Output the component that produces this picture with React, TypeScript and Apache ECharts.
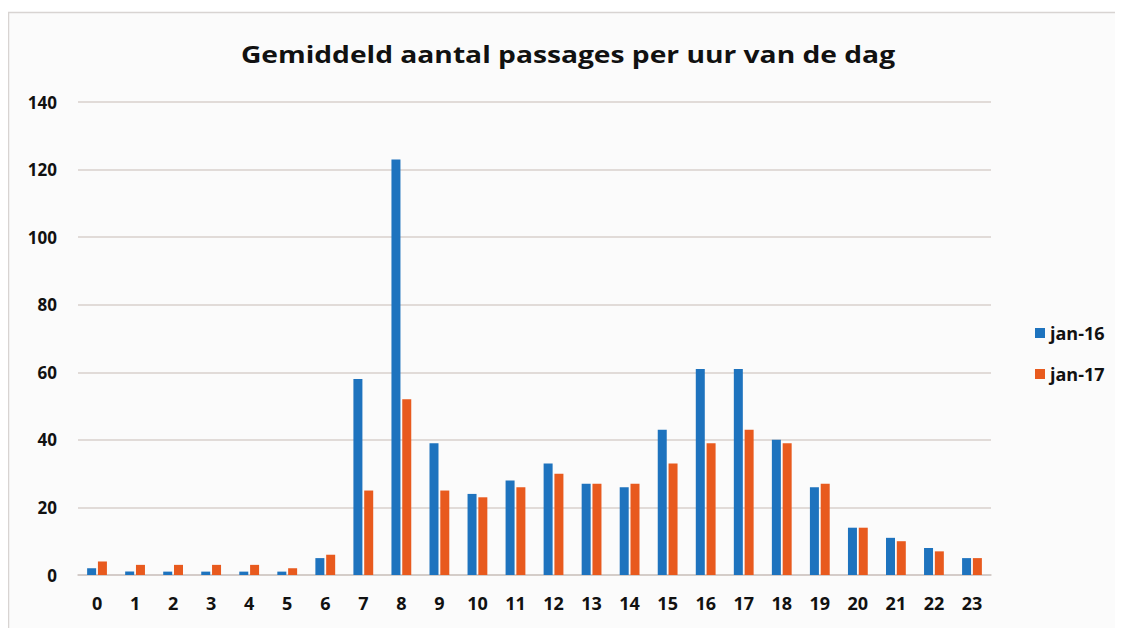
import React, { useEffect, useRef } from "react";
import * as echarts from "echarts";

const hours = ["0","1","2","3","4","5","6","7","8","9","10","11","12","13","14","15","16","17","18","19","20","21","22","23"];
const jan16 = [2, 1, 1, 1, 1, 1, 5, 58, 123, 39, 24, 28, 33, 27, 26, 43, 61, 61, 40, 26, 14, 11, 8, 5];
const jan17 = [4, 3, 3, 3, 3, 2, 6, 25, 52, 25, 23, 26, 30, 27, 27, 33, 39, 43, 39, 27, 14, 10, 7, 5];
const yTicks = [0, 20, 40, 60, 80, 100, 120, 140];
const titleText = "Gemiddeld aantal passages per uur van de dag";

export default function App() {
  const ref = useRef<HTMLDivElement>(null);
  useEffect(() => {
    const chart = echarts.init(ref.current!, null, { renderer: "svg" });
    const font = "'Open Sans', 'Noto Sans', sans-serif";
    chart.setOption({
      animation: false,
      backgroundColor: "#ffffff",
      graphic: [
        {
          type: "rect",
          shape: { x: 8.5, y: 12.5, width: 1108, height: 620 },
          style: { fill: "#fbfbfb", stroke: "#d8d4d2", lineWidth: 1.5 },
          z: -10,
          silent: true,
        },
        {
          type: "text",
          x: 568,
          y: 54,
          scaleX: 1.2,
          style: {
            text: titleText,
            fontFamily: font,
            fontWeight: "bold",
            fontSize: 23.5,
            fill: "#111",
            textAlign: "center",
            textVerticalAlign: "middle",
          },
          silent: true,
        },
      ],
      legend: {
        orient: "vertical",
        left: 1030,
        top: 319,
        itemWidth: 10,
        itemHeight: 10,
        itemGap: 23,
        icon: "rect",
        textStyle: { fontFamily: font, fontWeight: "bold", fontSize: 18, color: "#111", padding: [0, 0, 0, 0] },
        data: ["jan-16", "jan-17"],
      },
      grid: { left: 78, right: 132, top: 102, bottom: 53, containLabel: false },
      xAxis: {
        type: "category",
        data: hours,
        axisLine: { lineStyle: { color: "#cfc8c4", width: 1.5 } },
        axisTick: { show: false },
        axisLabel: { fontFamily: font, fontWeight: "bold", fontSize: 18, color: "#111", margin: 19 },
      },
      yAxis: {
        type: "value",
        min: 0,
        max: 140,
        interval: 20,
        axisLine: { show: false },
        axisTick: { show: false },
        splitLine: { lineStyle: { color: "#d9d0cc", width: 1.5 } },
        axisLabel: {
          fontFamily: font,
          fontWeight: "bold",
          fontSize: 17,
          color: "#111",
          margin: 21,
          formatter: (v: number) => (yTicks.includes(v) ? String(v) : ""),
        },
      },
      series: [
        {
          name: "jan-16",
          type: "bar",
          data: jan16,
          barWidth: 9,
          barGap: "20%",
          itemStyle: { color: "#1E73BE" },
        },
        {
          name: "jan-17",
          type: "bar",
          data: jan17,
          barWidth: 9,
          barGap: "20%",
          itemStyle: { color: "#E85A1E" },
        },
      ],
    });
    return () => chart.dispose();
  }, []);
  return <div ref={ref} style={{ width: 1123, height: 628, marginTop: -8, marginLeft: -8 }} />;
}
